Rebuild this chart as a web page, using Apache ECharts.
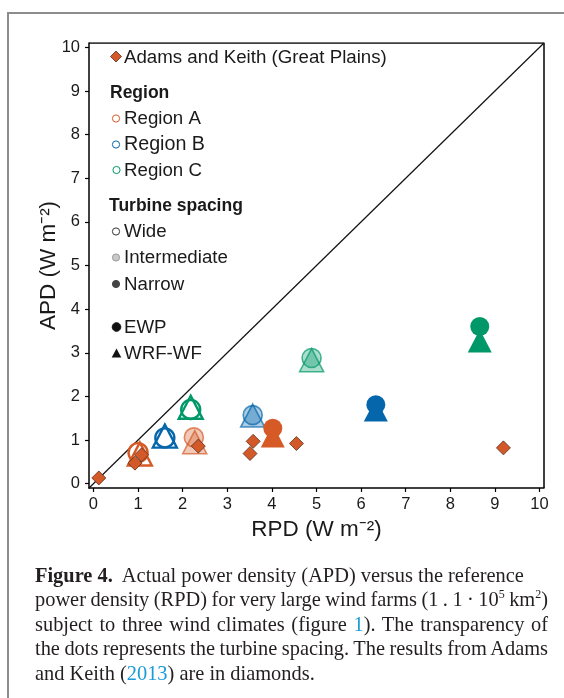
<!DOCTYPE html>
<html>
<head>
<meta charset="utf-8">
<script src="https://cdn.jsdelivr.net/npm/echarts@6/dist/echarts.min.js"></script>
<style>
  html, body { margin: 0; padding: 0; background: #fff; }
  body { width: 564px; height: 698px; position: relative; overflow: hidden; }
  #frame { position: absolute; left: 7px; top: 12px; width: 600px; height: 760px;
           border-top: 2px solid #8c8c8c; border-left: 2px solid #8c8c8c; }
  #chart { position: absolute; left: 0; top: 0; width: 564px; height: 698px; }
  #caption { position: absolute; left: 35px; top: 563px; width: 513px;
             font-family: "Liberation Serif", "DejaVu Serif", serif; font-size: 20.4px;
             color: #231f20; line-height: 24.4px; }
  #caption .l { text-align: justify; text-align-last: justify; white-space: nowrap; }
  #caption .tight { word-spacing: -1.3px; }
  #caption .first, #caption .last { text-align: left; white-space: nowrap; }
  #caption a { color: #1a9bd7; text-decoration: none; }
  #caption sup { font-size: 12px; line-height: 0; vertical-align: 8px; }
</style>
</head>
<body>
<div id="frame"></div>
<div id="chart"></div>
<div id="caption">
  <div class="first"><b>Figure 4.</b>&nbsp; Actual power density (APD) versus the reference</div>
  <div class="l tight">power density (RPD) for very large wind farms (1 . 1 · 10<sup>5</sup> km<sup>2</sup>)</div>
  <div class="l">subject to three wind climates (figure <a>1</a>). The transparency of</div>
  <div class="l tight">the dots represents the turbine spacing. The results from Adams</div>
  <div class="last">and Keith (<a>2013</a>) are in diamonds.</div>
</div>
<script>
// ---- data (each region array ordered: wide, intermediate, narrow spacing) ----
const xTicks = [0, 1, 2, 3, 4, 5, 6, 7, 8, 9, 10];
const yTicks = [0, 1, 2, 3, 4, 5, 6, 7, 8, 9, 10];
const spacingNames = ['Wide', 'Intermediate', 'Narrow'];
const ewpA = [[1.00, 0.71], [2.25, 1.06], [4.02, 1.27]];
const wrfA = [[1.04, 0.68], [2.27, 0.95], [4.02, 1.09]];
const ewpB = [[1.60, 1.05], [3.57, 1.57], [6.33, 1.81]];
const wrfB = [[1.60, 1.09], [3.57, 1.56], [6.33, 1.69]];
const ewpC = [[2.18, 1.70], [4.89, 2.88], [8.66, 3.60]];
const wrfC = [[2.18, 1.75], [4.89, 2.83], [8.66, 3.27]];
const adamsKeith = [[0.12, 0.13], [0.93, 0.47], [1.08, 0.66], [2.35, 0.86],
                    [3.51, 0.69], [3.58, 0.97], [4.55, 0.92], [9.19, 0.82]];
const oneToOne = [[-0.1, -0.1], [10.1, 10.1]];

const colA = '#d65a26', colB = '#0666ac', colC = '#009868';

function hexA(hex, a) {
  const r = parseInt(hex.slice(1, 3), 16), g = parseInt(hex.slice(3, 5), 16), b = parseInt(hex.slice(5, 7), 16);
  return 'rgba(' + r + ',' + g + ',' + b + ',' + a + ')';
}
function spacingStyle(i, col) {
  if (i === 0) return { color: 'rgba(255,255,255,0)', borderColor: col, borderWidth: 2.4, opacity: 1 };
  if (i === 1) return { color: hexA(col, 0.33), borderColor: hexA(col, 0.7), borderWidth: 1.6, opacity: 1 };
  return { color: col, borderWidth: 0, opacity: 1 };
}
function items(arr, col) {
  return arr.map((p, i) => ({ value: p, name: spacingNames[i], itemStyle: spacingStyle(i, col) }));
}
function tri(name, arr, col) {
  return { name: name, type: 'scatter', symbol: 'triangle', symbolSize: [24, 23], z: 3,
           data: items(arr, col), silent: true };
}
function circ(name, arr, col) {
  return { name: name, type: 'scatter', symbol: 'circle', symbolSize: 19, z: 4,
           data: items(arr, col), silent: true };
}

const font = '"Liberation Sans", Arial, sans-serif';
function txt(t, x, y, size, bold) {
  return { type: 'text', x: x, y: y, z: 100,
           style: { text: t, fill: '#1a1a1a', font: (bold ? 'bold ' : '') + size + 'px ' + font,
                    verticalAlign: 'middle', align: 'left' } };
}
function dot(cx, cy, r, fill, stroke) {
  return { type: 'circle', z: 100, shape: { cx: cx, cy: cy, r: r },
           style: { fill: fill, stroke: stroke, lineWidth: 1 } };
}

const legend = [
  { type: 'polygon', z: 100, shape: { points: [[116, 51], [121.5, 56.5], [116, 62], [110.5, 56.5]] },
    style: { fill: '#d35a28', stroke: '#5a3020', lineWidth: 0.8 } },
  txt('Adams and Keith (Great Plains)', 124, 57.5, 18.7, false),
  txt('Region', 110, 93.5, 17.5, true),
  dot(116, 118.5, 3.6, '#fff', colA), txt('Region A', 124, 118.5, 18.7, false),
  dot(116, 144.5, 3.6, '#fff', colB), txt('Region B', 124, 144.5, 19.7, false),
  dot(116.5, 170, 3.6, '#fff', colC), txt('Region C', 124, 170.5, 18.7, false),
  txt('Turbine spacing', 109, 206, 17.5, true),
  dot(116, 231.5, 3.6, '#fff', '#333'), txt('Wide', 124, 232, 18.7, false),
  dot(116, 257.5, 3.6, '#c8c8c8', '#999'), txt('Intermediate', 124, 258, 18.7, false),
  dot(116, 284, 3.6, '#444', '#444'), txt('Narrow', 124, 284.5, 18.7, false),
  dot(116.5, 327, 4.3, '#111', '#111'), txt('EWP', 124, 327.5, 18.7, false),
  { type: 'polygon', z: 100, shape: { points: [[116.5, 348.5], [121.3, 357.5], [111.7, 357.5]] },
    style: { fill: '#111' } },
  txt('WRF-WF', 124, 354, 18.7, false)
];

const chart = echarts.init(document.getElementById('chart'), null, { renderer: 'canvas' });
chart.setOption({
  animation: false,
  backgroundColor: 'transparent',
  grid: { left: 89, right: 20, top: 43, bottom: 210, show: false },
  xAxis: {
    type: 'value', min: -0.1, max: 10.1,
    name: 'RPD (W m⁻²)', nameLocation: 'middle', nameGap: 28,
    nameTextStyle: { fontFamily: font, fontSize: 22.5, color: '#1a1a1a' },
    axisLine: { show: true, onZero: false, lineStyle: { color: '#000', width: 1.5 } },
    axisTick: { show: true, inside: false, length: 4, customValues: xTicks, lineStyle: { color: '#000', width: 1.2 } },
    axisLabel: { customValues: xTicks, fontFamily: font, fontSize: 16.5, color: '#1a1a1a', margin: 8 },
    splitLine: { show: false }
  },
  yAxis: {
    type: 'value', min: -0.1, max: 10.1,
    name: 'APD (W m⁻²)', nameLocation: 'middle', nameGap: 29, nameRotate: 90,
    nameMoveOverlap: false,
    nameTextStyle: { fontFamily: font, fontSize: 22.5, color: '#1a1a1a' },
    axisLine: { show: true, onZero: false, lineStyle: { color: '#000', width: 1.5 } },
    axisTick: { show: true, inside: false, length: 4, customValues: yTicks, lineStyle: { color: '#000', width: 1.2 } },
    axisLabel: { customValues: yTicks, fontFamily: font, fontSize: 16.5, color: '#1a1a1a', margin: 9 },
    splitLine: { show: false }
  },
  graphic: legend,
  series: [
    { name: 'frameTopRight', type: 'line', data: [[-0.1, 10.1], [10.1, 10.1], [10.1, -0.1]],
      symbol: 'none', lineStyle: { color: '#000', width: 1.5 }, z: 1, silent: true },
    { name: '1:1', type: 'line', data: oneToOne, symbol: 'none',
      lineStyle: { color: '#111', width: 1.2 }, z: 2, silent: true },
    tri('WRF-WF A', wrfA, colA), circ('EWP A', ewpA, colA),
    tri('WRF-WF B', wrfB, colB), circ('EWP B', ewpB, colB),
    tri('WRF-WF C', wrfC, colC), circ('EWP C', ewpC, colC),
    { name: 'Adams and Keith', type: 'scatter', symbol: 'diamond', symbolSize: 14, z: 6,
      data: adamsKeith, silent: true,
      itemStyle: { color: '#d35a28', borderColor: '#5a3020', borderWidth: 0.8, opacity: 1 } }
  ]
});
</script>
</body>
</html>
